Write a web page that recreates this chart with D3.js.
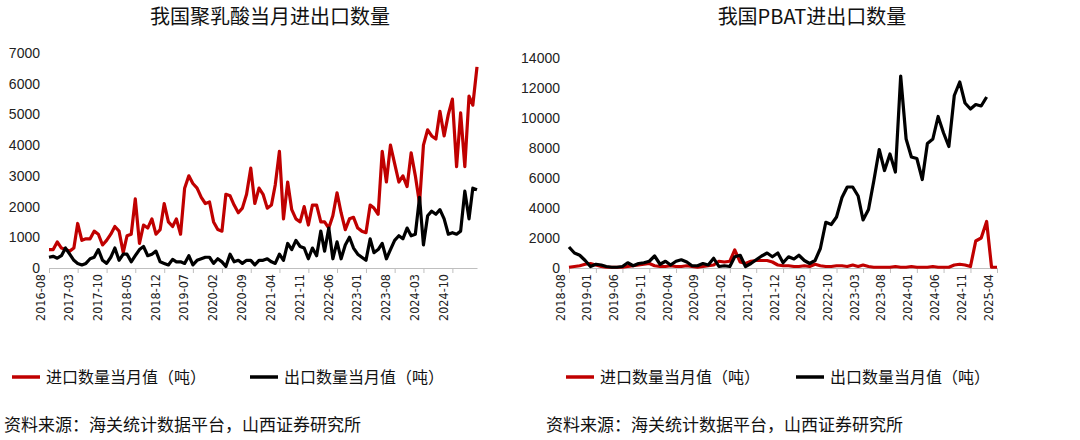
<!DOCTYPE html>
<html><head><meta charset="utf-8">
<script src="https://cdn.jsdelivr.net/npm/d3@7"></script>
<style>body{margin:0;background:#fff;font-family:"Noto Sans CJK SC",sans-serif}</style>
</head><body>
<svg id="c" width="1080" height="440"></svg>
<script>
// 聚乳酸 2016-08 .. 2025-04
var plaImport = [600,600,850,650,600,550,650,1450,900,950,950,1200,1100,750,900,1100,1350,1200,500,1050,1100,2250,800,1400,1300,1600,1100,1250,2100,1500,1350,1600,1100,2600,3000,2750,2600,2300,2100,2150,1500,1250,1200,2400,2350,2050,1800,1950,2400,3250,2100,2600,2400,1950,2050,2700,3800,1600,2800,1900,1600,1500,2000,1400,2050,2050,1500,1500,1300,1700,2450,1800,1250,1600,1650,1300,1200,1150,2050,1950,1750,3800,2800,4000,3400,2800,3000,2650,3750,3000,2100,4000,4500,4300,4200,5100,4300,5000,5500,3300,5050,3300,5600,5300,6550];
var plaExport = [350,380,320,400,650,450,250,150,100,150,300,350,600,250,150,350,650,250,450,450,200,400,600,700,400,450,550,200,150,100,280,200,200,150,400,100,250,300,350,350,150,300,200,50,450,200,250,150,250,250,100,250,250,300,200,150,450,250,800,600,900,700,650,300,650,400,1200,550,1300,300,850,300,750,1000,650,450,350,250,950,500,600,800,300,600,900,1050,950,1300,1050,1100,2300,750,1700,1850,1750,1900,1600,1100,1150,1100,1200,2500,1600,2600,2550];
var plaTicks = ["2016-08","2017-03","2017-10","2018-05","2018-12","2019-07","2020-02","2020-09","2021-04","2021-11","2022-06","2023-01","2023-08","2024-03","2024-10"];
// PBAT 2018-08 .. 2025-04
var pbatImport = [50,100,150,250,300,200,100,50,50,50,50,100,150,200,250,300,150,100,100,150,100,100,150,100,50,100,150,200,450,400,450,1200,400,300,450,500,500,500,400,200,150,150,100,100,150,100,250,150,100,100,150,150,100,200,100,200,100,50,50,50,50,100,50,50,100,50,50,50,100,50,50,50,200,250,200,100,1800,2000,3100,50,50];
var pbatExport = [1400,1000,850,500,100,250,200,100,50,50,100,350,150,300,350,450,800,250,450,200,450,550,400,150,150,300,200,650,100,150,100,750,850,100,300,550,800,1000,750,1000,350,750,600,850,500,300,500,1300,3050,2900,3400,4700,5400,5400,4800,3200,3900,5800,7900,6500,7600,6400,12800,8600,7400,7300,5900,8300,8600,10100,9000,8100,11500,12400,11000,10600,10900,10800,11400];
var pbatTicks = ["2018-08","2019-01","2019-06","2019-11","2020-04","2020-09","2021-02","2021-07","2021-12","2022-05","2022-10","2023-03","2023-08","2024-01","2024-06","2024-11","2025-04"];

var svg = d3.select("#c");
var parse = d3.timeParse("%Y-%m");

function chart(o) {
  var g = svg.append("g");
  var start = parse(o.start);
  var dates = o.imp.map(function(d, i){ return d3.timeMonth.offset(start, i); });
  var x = d3.scaleTime().domain([dates[0], dates[dates.length-1]]).range([o.x0, o.x1]);
  var y = d3.scaleLinear().domain([0, o.max]).range([268, o.yTop]);

  g.append("text").attr("x", o.tx).attr("y", 24).attr("text-anchor", "middle")
    .attr("font-size", 20).attr("fill", "#111").text(o.title);

  var ya = g.append("g").attr("transform", "translate(" + (o.x0 - 6) + ",0)")
    .call(d3.axisLeft(y).tickValues(d3.range(0, o.max + 1, o.step)).tickSize(0).tickFormat(d3.format("d")));
  ya.select(".domain").remove();
  ya.selectAll("text").attr("font-size", 14).attr("fill", "#222").attr("font-family", "Liberation Sans, Arial");

  var xa = g.append("g").attr("transform", "translate(0,268)")
    .call(d3.axisBottom(x).tickValues(o.ticks.map(parse)).tickSize(5).tickSizeOuter(0).tickFormat(d3.timeFormat("%Y-%m")));
  xa.select(".domain").attr("stroke", "#bfbfbf");
  xa.selectAll("line").attr("stroke", "#bfbfbf");
  xa.selectAll("text").attr("font-size", 12.5).attr("fill", "#222").attr("font-family", "DejaVu Sans Condensed, sans-serif")
    .attr("transform", "rotate(-90)").attr("text-anchor", "end").attr("dx", "-6").attr("dy", "-0.4em").attr("y", 0).attr("x", 0);

  var line = d3.line().x(function(d, i){ return x(dates[i]); }).y(function(d){ return y(d); });
  [[o.imp, "#c00000"], [o.exp, "#000"]].forEach(function(s){
    g.append("path").datum(s[0]).attr("d", line).attr("fill", "none")
      .attr("stroke", s[1]).attr("stroke-width", 3.2).attr("stroke-linejoin", "round");
  });

  var lg = g.append("g").attr("transform", "translate(" + o.lx + ",377)");
  [["进口数量当月值（吨）", "#c00000", 0], ["出口数量当月值（吨）", "#000", o.lgap]].forEach(function(l){
    lg.append("line").attr("x1", l[2]).attr("x2", l[2] + 28).attr("stroke", l[1]).attr("stroke-width", 3.5);
    lg.append("text").attr("x", l[2] + 34).attr("y", 6).attr("font-size", 16).attr("fill", "#111").text(l[0]);
  });

  g.append("text").attr("x", o.sx).attr("y", 431).attr("font-size", 17).attr("fill", "#111")
    .text("资料来源：海关统计数据平台，山西证券研究所");
}

chart({start: "2016-08", imp: plaImport, exp: plaExport, ticks: plaTicks, max: 7000, step: 1000,
  x0: 49, x1: 477, yTop: 53, title: "我国聚乳酸当月进出口数量", tx: 270, lx: 12, lgap: 238, sx: 4});
chart({start: "2018-08", imp: pbatImport, exp: pbatExport, ticks: pbatTicks, max: 14000, step: 2000,
  x0: 569, x1: 997, yTop: 58, title: "我国PBAT进出口数量", tx: 812, lx: 566, lgap: 230, sx: 546});
</script>
</body></html>
